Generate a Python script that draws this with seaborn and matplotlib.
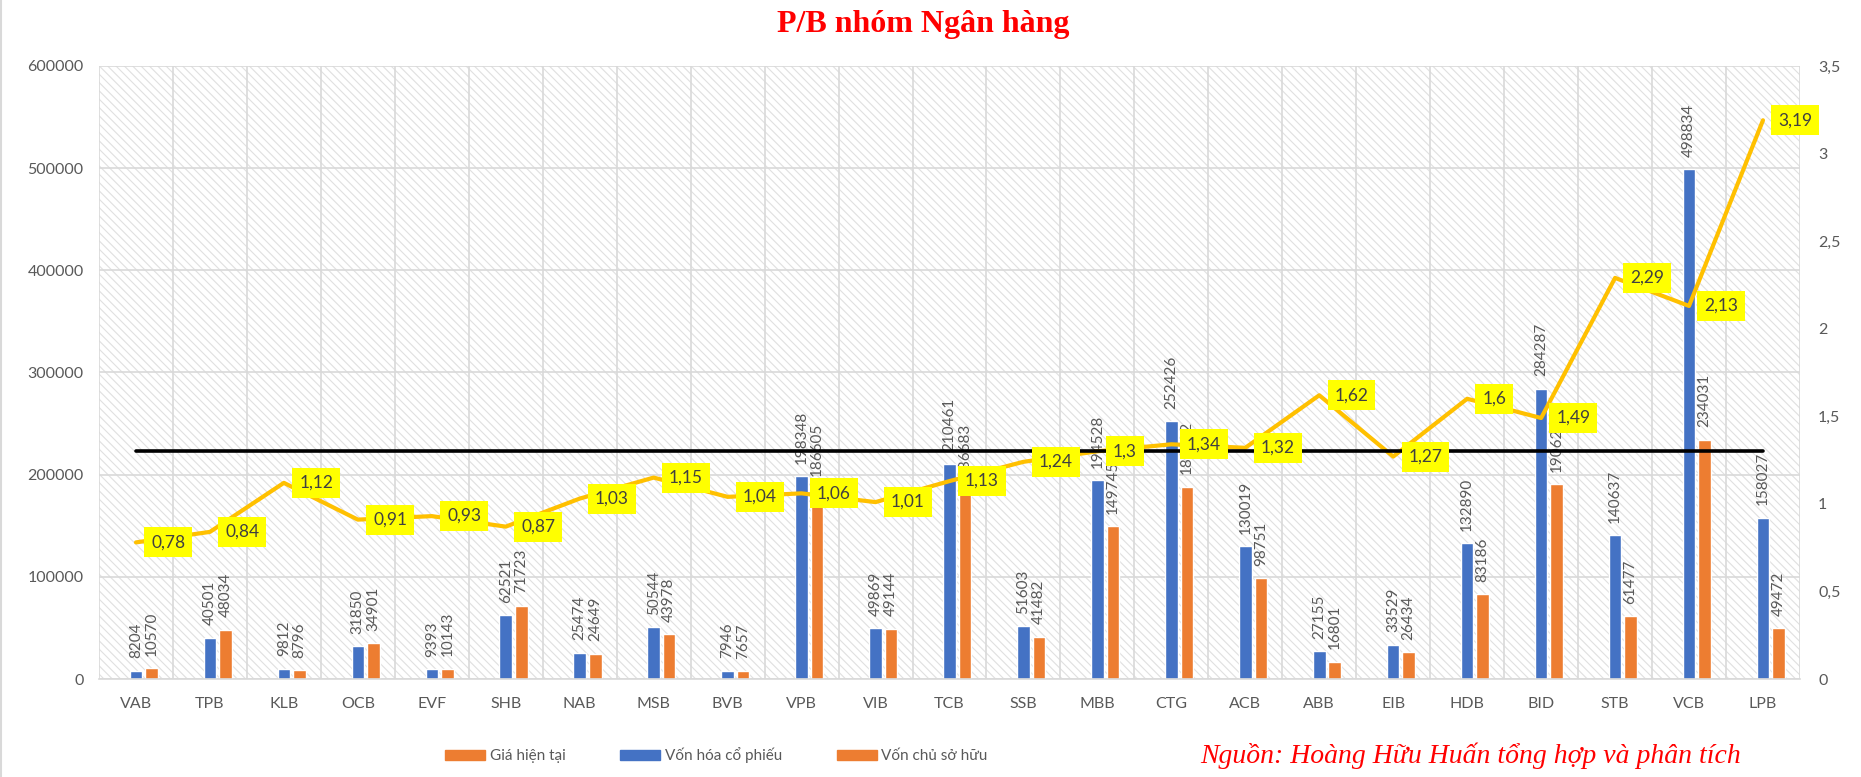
import matplotlib
matplotlib.use("Agg")
import matplotlib.pyplot as plt
from matplotlib.patches import Patch, Rectangle
from matplotlib.lines import Line2D
from matplotlib.ticker import FuncFormatter, MultipleLocator
import numpy as np
import seaborn as sns

# data
banks = ["VAB", "TPB", "KLB", "OCB", "EVF", "SHB", "NAB", "MSB", "BVB", "VPB",
         "VIB", "TCB", "SSB", "MBB", "CTG", "ACB", "ABB", "EIB", "HDB", "BID",
         "STB", "VCB", "LPB"]
von_hoa = [8204, 40501, 9812, 31850, 9393, 62521, 25474, 50544, 7946, 198348,
           49869, 210461, 51603, 194528, 252426, 130019, 27155, 33529, 132890,
           284287, 140637, 498834, 158027]
von_csh = [10570, 48034, 8796, 34901, 10143, 71723, 24649, 43978, 7657, 186605,
           49144, 186683, 41482, 149745, 187972, 98751, 16801, 26434, 83186,
           190624, 61477, 234031, 49472]
pb = [0.78, 0.84, 1.12, 0.91, 0.93, 0.87, 1.03, 1.15, 1.04, 1.06, 1.01, 1.13,
      1.24, 1.3, 1.34, 1.32, 1.62, 1.27, 1.6, 1.49, 2.29, 2.13, 3.19]
pb_avg = 1.3
legend_names = ["Giá hiện tại", "Vốn hóa cổ phiếu", "Vốn chủ sở hữu"]

BLUE = "#4472C4"
ORANGE = "#ED7D31"
GOLD = "#FFC000"
GRID = "#d9d9d9"
TXT = "#595959"

sns.set_theme(style="white")
plt.rcParams["font.family"] = ["Lato", "Noto Sans", "DejaVu Sans"]
plt.rcParams["hatch.linewidth"] = 0.8

fig = plt.figure(figsize=(18.61, 7.77), dpi=100)
ax = fig.add_axes([0.0532, 0.1261, 0.914, 0.789])

idx = np.arange(len(banks))
bw = 0.17

# hatched plot area like the excel pattern fill
ax.add_patch(Rectangle((0, 0), 1, 1, transform=ax.transAxes, facecolor="white",
                       edgecolor="#e0e0e0", lw=0, hatch="\\" * 4, zorder=0))

sns.barplot(x=idx, y=von_hoa, native_scale=True, width=bw, color=BLUE,
            saturation=1, ax=ax, zorder=2)
sns.barplot(x=idx + 0.21, y=von_csh, native_scale=True, width=bw, color=ORANGE,
            saturation=1, ax=ax, zorder=2)

for x, v in zip(idx, von_hoa):
    ax.annotate(str(v), (x, v), xytext=(0, 9), textcoords="offset points",
                rotation=90, ha="center", va="bottom", fontsize=11, color=TXT)
for x, v in zip(idx + 0.21, von_csh):
    ax.annotate(str(v), (x, v), xytext=(0, 9), textcoords="offset points",
                rotation=90, ha="center", va="bottom", fontsize=11, color=TXT)

ax.set_xlim(-0.5, len(banks) - 0.5)
ax.set_ylim(0, 600000)
ax.yaxis.set_major_locator(MultipleLocator(100000))
ax.yaxis.set_major_formatter(FuncFormatter(lambda v, p: f"{int(v)}"))
ax.set_xticks(idx)
ax.set_xticklabels(banks)
ax.set_xticks(np.arange(-0.5, len(banks), 1), minor=True)
ax.set_axisbelow(True)
ax.grid(axis="y", which="major", color=GRID, lw=1.2)
ax.grid(axis="x", which="minor", color=GRID, lw=1.2)
ax.grid(axis="x", which="major", visible=False)
ax.tick_params(axis="x", which="major", length=0, pad=13, labelsize=11.5, labelcolor=TXT)
ax.tick_params(axis="x", which="minor", length=5, width=1.2, color=GRID, direction="out")
ax.tick_params(axis="y", length=0, pad=11, labelsize=11.5, labelcolor=TXT)
for s in ["left", "right", "top"]:
    ax.spines[s].set_visible(False)
ax.spines["bottom"].set_color(GRID)
ax.spines["bottom"].set_linewidth(1.2)
ax.set_xlabel("")
ax.set_ylabel("")

# secondary axis: P/B line and average line
ax2 = ax.twinx()
sns.lineplot(x=idx, y=pb, color=GOLD, lw=3, ax=ax2)
sns.lineplot(x=idx, y=[pb_avg] * len(banks), color="black", lw=2.6, ax=ax2)
for x, v in zip(idx, pb):
    ax2.annotate(f"{v:g}".replace(".", ","), (x, v), xytext=(11, 0),
                 textcoords="offset points", ha="left", va="center",
                 fontsize=12.5, color="#404040",
                 bbox=dict(boxstyle="square,pad=0.4", fc="#FFFF00", ec="none"))
ax2.set_ylim(0, 3.5)
ax2.yaxis.set_major_locator(MultipleLocator(0.5))
ax2.yaxis.set_major_formatter(FuncFormatter(lambda v, p: f"{v:g}".replace(".", ",")))
ax2.tick_params(axis="y", length=0, pad=13, labelsize=11.5, labelcolor=TXT)
for s in ax2.spines.values():
    s.set_visible(False)
ax2.grid(False)
ax2.set_ylabel("")

fig.text(0.496, 0.969, "P/B nhóm Ngân hàng", ha="center", va="center",
         fontsize=23, fontweight="bold", color="red", family="Liberation Serif")
fig.text(0.645, 0.018, "Nguồn: Hoàng Hữu Huấn tổng hợp và phân tích",
         ha="left", va="baseline", fontsize=20, style="italic", color="red",
         family="Liberation Serif")

handles = [Patch(color=ORANGE), Patch(color=BLUE), Patch(color=ORANGE)]
fig.legend(handles, legend_names, loc="center", bbox_to_anchor=(0.385, 0.028),
           ncol=3, frameon=False, fontsize=11, labelcolor=TXT,
           handlelength=2.6, handleheight=0.65, handletextpad=0.3,
           columnspacing=3.6)

fig.add_artist(Line2D([0.0008, 0.0008], [0, 1], transform=fig.transFigure,
                      color=GRID, lw=1.5))

fig.savefig("out.png", dpi=100, facecolor="white")
